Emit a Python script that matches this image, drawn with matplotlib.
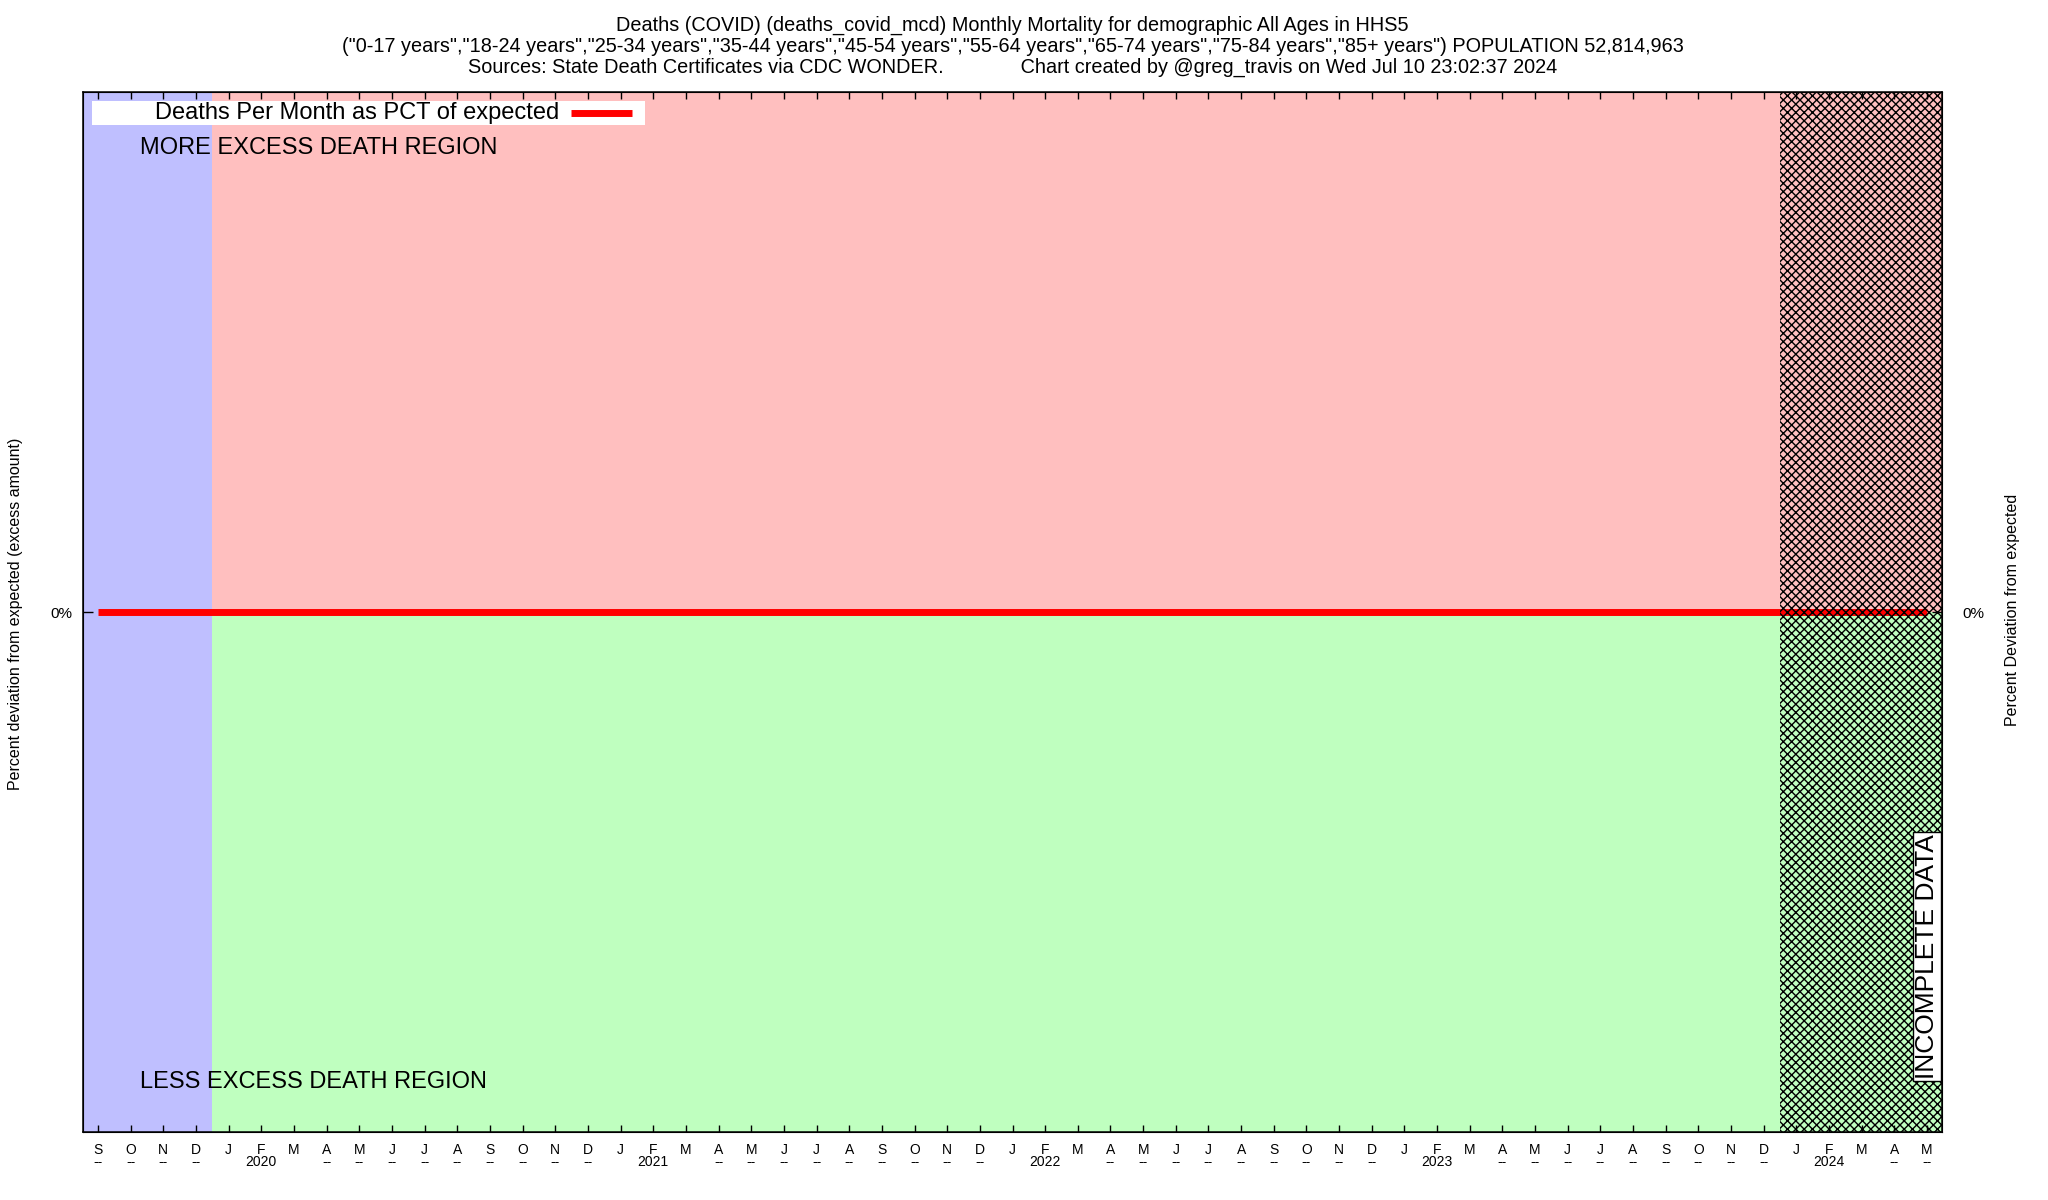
import numpy as np
import matplotlib
matplotlib.use('Agg')
import matplotlib.pyplot as plt
from matplotlib.patches import Rectangle
from matplotlib.lines import Line2D
import matplotlib.transforms as mtransforms

plt.rcParams['font.family'] = ['Liberation Sans', 'DejaVu Sans']

# month axis, Sep 2019 .. May 2024
months = ['S', 'O', 'N', 'D',
          'J', 'F', 'M', 'A', 'M', 'J', 'J', 'A', 'S', 'O', 'N', 'D',
          'J', 'F', 'M', 'A', 'M', 'J', 'J', 'A', 'S', 'O', 'N', 'D',
          'J', 'F', 'M', 'A', 'M', 'J', 'J', 'A', 'S', 'O', 'N', 'D',
          'J', 'F', 'M', 'A', 'M', 'J', 'J', 'A', 'S', 'O', 'N', 'D',
          'J', 'F', 'M', 'A', 'M']
sublabels = ['--', '--', '--', '--',
             '', '2020', '', '--', '--', '--', '--', '--', '--', '--', '--', '--',
             '', '2021', '', '--', '--', '--', '--', '--', '--', '--', '--', '--',
             '', '2022', '', '--', '--', '--', '--', '--', '--', '--', '--', '--',
             '', '2023', '', '--', '--', '--', '--', '--', '--', '--', '--', '--',
             '', '2024', '', '--', '--']
# deaths per month as pct deviation from expected
pct_dev = [0, 0, 0, 0,
           0, 0, 0, 0, 0, 0, 0, 0, 0, 0, 0, 0,
           0, 0, 0, 0, 0, 0, 0, 0, 0, 0, 0, 0,
           0, 0, 0, 0, 0, 0, 0, 0, 0, 0, 0, 0,
           0, 0, 0, 0, 0, 0, 0, 0, 0, 0, 0, 0,
           0, 0, 0, 0, 0]
n_before = 4       # months before the baseline window (blue)
n_incomplete = 5   # trailing months with incomplete data

title = ('Deaths (COVID) (deaths_covid_mcd) Monthly Mortality for demographic All Ages in HHS5\n'
         '("0-17 years","18-24 years","25-34 years","35-44 years","45-54 years","55-64 years",'
         '"65-74 years","75-84 years","85+ years") POPULATION 52,814,963\n'
         'Sources: State Death Certificates via CDC WONDER.              '
         'Chart created by @greg_travis on Wed Jul 10 23:02:37 2024')
legend_label = 'Deaths Per Month as PCT of expected'

x = np.arange(len(months))
xmin, xmax = -0.46, len(months) - 1 + 0.46
ymin, ymax = -1, 1

fig = plt.figure(figsize=(20.48, 12), dpi=100)
ax = fig.add_axes([83/2048, 1 - 1132/1200, 1859/2048, 1040/1200])

# shaded regions
ax.axvspan(xmin, n_before - 0.5, color='#bfbfff', lw=0, zorder=0)
ax.fill_between([n_before - 0.5, xmax], 0, ymax, color='#ffbfbf', lw=0, zorder=0)
ax.fill_between([n_before - 0.5, xmax], ymin, 0, color='#bfffbf', lw=0, zorder=0)

ax.plot(x, pct_dev, color='#ff0000', lw=5, solid_capstyle='butt', zorder=2)

plt.rcParams['hatch.linewidth'] = 1.0
ax.axvspan(len(months) - n_incomplete - 0.5, xmax, facecolor='none', edgecolor='black',
           hatch='xxxx', lw=0, zorder=3)

ax.set_xlim(xmin, xmax)
ax.set_ylim(ymin, ymax)
ax.set_xticks(x)
ax.set_xticklabels([m + '\n' + s for m, s in zip(months, sublabels)], fontsize=10, linespacing=0.85)
ax.set_yticks([0])
ax.set_yticklabels(['0%'], fontsize=11)
ax.tick_params(axis='x', direction='in', length=5, width=1, top=True, pad=8)
ax.tick_params(axis='y', direction='in', length=7, width=1, left=True, right=False, pad=8)
for s in ax.spines.values():
    s.set_linewidth(1.1)

ax2 = ax.twinx()
ax2.set_ylim(ymin, ymax)
ax2.set_yticks([0])
ax2.set_yticklabels(['0%'], fontsize=11)
ax2.tick_params(axis='y', direction='in', length=7, width=1, pad=15)

# region text
ax.text(0.0307, 0.946, 'MORE EXCESS DEATH REGION', transform=ax.transAxes, fontsize=17,
        va='center', ha='left', zorder=4)
ax.text(0.0307, 0.048, 'LESS EXCESS DEATH REGION', transform=ax.transAxes, fontsize=17,
        va='center', ha='left', zorder=4)
trans = mtransforms.blended_transform_factory(ax.transData, ax.transAxes)
ax.text(x[-1], 0.169, 'INCOMPLETE DATA', transform=trans, rotation=90, fontsize=19,
        ha='center', va='center', zorder=5,
        bbox=dict(facecolor='white', edgecolor='black', lw=1, pad=1.5))

# key box
ax.add_patch(Rectangle((0.0048, 0.9685), 0.2975, 0.0231, transform=ax.transAxes,
                       facecolor='white', edgecolor='none', zorder=5))
ax.text(0.2561, 0.9800, legend_label, transform=ax.transAxes, fontsize=17,
        ha='right', va='center', zorder=6)
ax.add_line(Line2D([0.2625, 0.2953], [0.9800, 0.9800], transform=ax.transAxes,
                   color='#ff0000', lw=5, solid_capstyle='butt', zorder=6))

ax.set_title(title, fontsize=14.3, linespacing=1.12, pad=14)

fig.text(16/2048, 0.5 - (614 - 600)/1200, 'Percent deviation from expected (excess amount)',
         rotation=90, ha='center', va='center', fontsize=11.5)
fig.text(2013/2048, 0.5 - (610 - 600)/1200, 'Percent Deviation from expected',
         rotation=90, ha='center', va='center', fontsize=11.5)

fig.savefig('out.png', dpi=100)
